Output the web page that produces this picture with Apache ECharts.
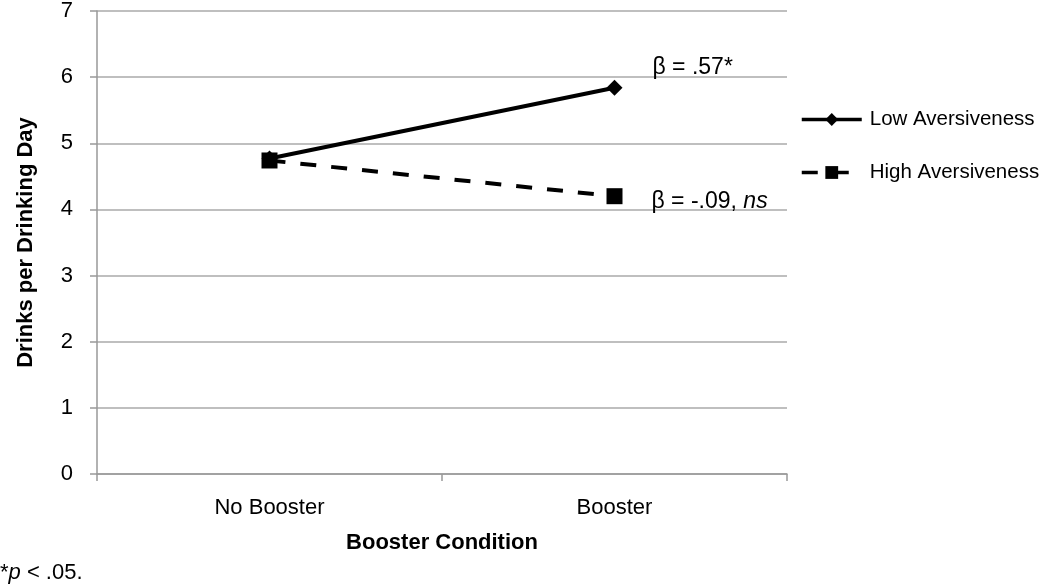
<!DOCTYPE html>
<html>
<head>
<meta charset="utf-8">
<script src="https://cdn.jsdelivr.net/npm/echarts@6/dist/echarts.min.js"></script>
<style>html,body{margin:0;padding:0;background:#fff}#c{width:1050px;height:585px}</style>
</head>
<body>
<div id="c"></div>
<script>
var categories = ['No Booster', 'Booster'];
var lowAversiveness = [4.77, 5.84];
var highAversiveness = [4.74, 4.20];
var yTicks = [0, 1, 2, 3, 4, 5, 6, 7];

var F = '"Liberation Sans", Arial, sans-serif';
var chart = echarts.init(document.getElementById('c'));
chart.setOption({
  animation: false,
  backgroundColor: '#fff',
  textStyle: { fontFamily: F },
  grid: { left: 97, right: 263, top: 10, bottom: 111 },
  legend: {
    orient: 'vertical',
    left: 800,
    top: 109,
    itemWidth: 60,
    itemHeight: 16,
    itemGap: 32,
    padding: 0,
    lineStyle: { width: 3.5 },
    textStyle: { fontFamily: F, fontSize: 20.5, color: '#000', padding: [0, 0, 0, 3] },
    data: ['Low Aversiveness', 'High Aversiveness']
  },
  xAxis: {
    type: 'category',
    data: categories,
    boundaryGap: true,
    name: 'Booster Condition',
    nameLocation: 'middle',
    nameGap: 58,
    nameTextStyle: { fontFamily: F, fontSize: 22, fontWeight: 'bold', color: '#000' },
    axisLine: { lineStyle: { color: '#999', width: 1.5 } },
    axisTick: { show: true, length: 7, lineStyle: { color: '#999', width: 1.5 } },
    axisLabel: { fontFamily: F, fontSize: 22, color: '#000', margin: 23 }
  },
  yAxis: {
    type: 'value',
    min: yTicks[0],
    max: yTicks[yTicks.length - 1],
    interval: 1,
    name: 'Drinks per Drinking Day',
    nameLocation: 'middle',
    nameGap: 60,
    nameTextStyle: { fontFamily: F, fontSize: 22, fontWeight: 'bold', color: '#000' },
    axisLine: { show: true, lineStyle: { color: '#999', width: 1.5 } },
    axisTick: { show: true, length: 7, lineStyle: { color: '#999', width: 1.5 } },
    axisLabel: { fontFamily: F, fontSize: 22, color: '#000', margin: 24 },
    splitLine: { show: true, lineStyle: { color: '#aaa', width: 1.5 } }
  },
  series: [
    {
      name: 'Low Aversiveness',
      type: 'line',
      data: lowAversiveness.map(function (v, i) {
        if (i === 1) {
          return { value: v, label: { show: true, position: 'right', offset: [25, -20],
            formatter: 'β = .57*', fontFamily: F, fontSize: 23, color: '#000' } };
        }
        return v;
      }),
      symbol: 'diamond',
      symbolSize: 16,
      z: 3,
      itemStyle: { color: '#000' },
      lineStyle: { color: '#000', width: 4 }
    },
    {
      name: 'High Aversiveness',
      type: 'line',
      data: highAversiveness.map(function (v, i) {
        if (i === 1) {
          return { value: v, label: { show: true, position: 'right', offset: [24, 5],
            formatter: '{a|β = -.09, }{b|ns}',
            rich: {
              a: { fontFamily: F, fontSize: 23, color: '#000' },
              b: { fontFamily: F, fontSize: 23, color: '#000', fontStyle: 'italic' }
            } } };
        }
        return v;
      }),
      symbol: 'rect',
      symbolSize: 16,
      z: 2,
      itemStyle: { color: '#000' },
      lineStyle: { color: '#000', width: 4, type: [16, 15] }
    }
  ],
  graphic: [
    {
      type: 'text',
      left: 0,
      top: 562,
      style: {
        text: '*{i|p} < .05.',
        rich: { i: { fontFamily: F, fontSize: 22, fontStyle: 'italic', fill: '#000' } },
        font: '22px ' + F,
        fill: '#000'
      }
    }
  ]
});
</script>
</body>
</html>
